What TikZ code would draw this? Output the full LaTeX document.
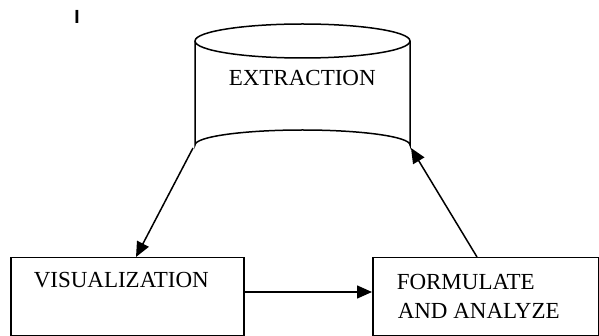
\documentclass[tikz,border=0pt]{standalone}
\usepackage{fontspec}
\setmainfont{Liberation Serif}
\newfontfamily\markfont{Liberation Sans}
\usetikzlibrary{arrows.meta}
\begin{document}
\begin{tikzpicture}[x=1pt,y=-1pt,
  line width=1.5pt,
  arr/.style={-{Triangle[length=15pt,width=13pt]}},
  boxnode/.style={draw, rectangle, minimum width=#1, minimum height=78pt, anchor=north west, inner sep=0pt},
  lbl/.style={anchor=base west, inner sep=0pt, font=\fontsize{23}{29}\selectfont}]
\useasboundingbox (0,0) rectangle (599,336);

% small mark at the top left
\node[anchor=base, inner sep=0pt, font=\markfont\bfseries\fontsize{19}{19}\selectfont] (mark) at (77,24) {I};

% database cylinder
\draw (195,41) arc[start angle=180, end angle=-180, x radius=107.5, y radius=17];
\draw (195,41) -- (195,145) arc[start angle=180, end angle=360, x radius=107.5, y radius=15] -- (410,41);
\node[inner sep=0pt, minimum width=215pt, minimum height=136pt, anchor=north west] (ext) at (195,24) {};
\coordinate (extbl) at (193,148);
\coordinate (extbr) at (411,148);
\node[lbl] (extlbl) at (228,86) {EXTRACTION};

% process boxes
\node[boxnode=233pt] (vis) at (10,257) {};
\node[lbl] (vislbl) at (33,288) {VISUALIZATION};
\node[boxnode=226pt] (form) at (372,257) {};
\node[lbl] (formlbl) at (396,290) {FORMULATE};
\node[lbl] (formlbl2) at (397,319) {AND ANALYZE};

% cycle connectors
\draw[arr] (extbl) -- ([xshift=126pt]vis.north west);
\draw[arr] (vis.east |- 0,292) -- (form.west |- 0,292);
\draw[arr] ([xshift=105pt]form.north west) -- (extbr);
\end{tikzpicture}
\end{document}
